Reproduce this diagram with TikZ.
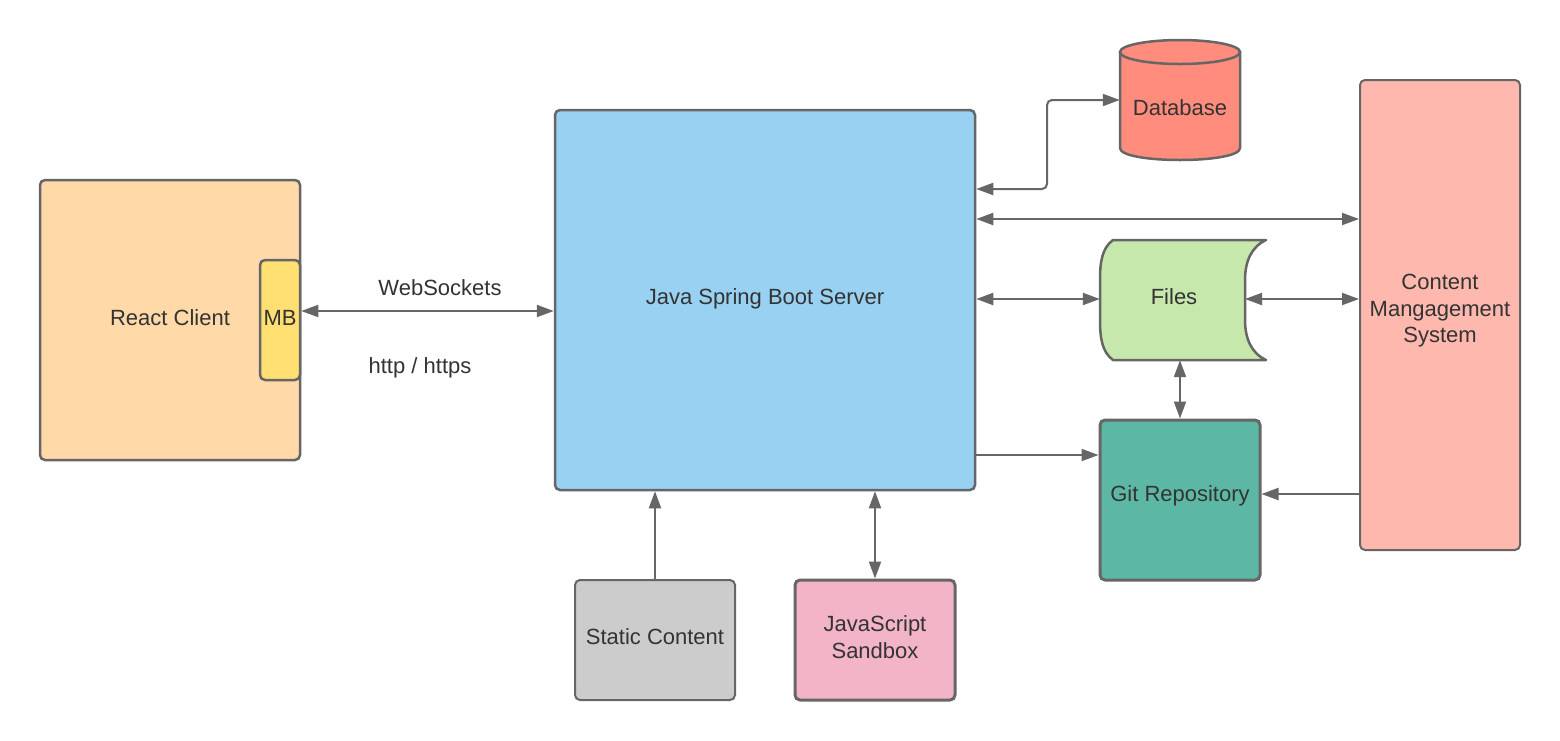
\documentclass[tikz,border=0pt]{standalone}
\usepackage{fontspec}
\setmainfont{Liberation Sans}
\usetikzlibrary{arrows.meta}
\definecolor{ln}{HTML}{666666}
\definecolor{txt}{HTML}{333333}
\definecolor{reactc}{HTML}{FFD9A8}
\definecolor{mbc}{HTML}{FFDF71}
\definecolor{javac}{HTML}{99D1F2}
\definecolor{dbc}{HTML}{FF8C7C}
\definecolor{filesc}{HTML}{C7E8AC}
\definecolor{gitc}{HTML}{5CB8A5}
\definecolor{cmsc}{HTML}{FFB8AE}
\definecolor{staticc}{HTML}{CCCCCC}
\definecolor{jsc}{HTML}{F3B4C8}
\begin{document}
\begin{tikzpicture}[x=1pt,y=-1pt,
  box/.style={draw=ln, line width=2.5pt, rounded corners=5pt, text=txt, align=center, inner sep=0pt,
    font=\fontsize{22}{26.5}\selectfont},
  plain/.style={inner sep=0pt, text=txt, align=center, font=\fontsize{22}{26.5}\selectfont},
  lbl/.style={inner sep=0pt, text=txt, font=\fontsize{22}{26.5}\selectfont},
  conn/.style={draw=ln, line width=2pt, -{Triangle[length=17pt,width=12pt]}},
  dbl/.style={draw=ln, line width=2pt, {Triangle[length=17pt,width=12pt]}-{Triangle[length=17pt,width=12pt]}}
]
\useasboundingbox (0,0) rectangle (1560,740);
\fill[white] (0,0) rectangle (1560,740);

% React client and MB
\node[box, fill=reactc, minimum width=260pt, minimum height=280pt] (react) at (170,320) {};
\node[plain] (reacttxt) at (170,318) {React Client};
\node[box, fill=mbc, minimum width=40pt, minimum height=120pt] (mb) at (280,320) {};
\node[plain] (mbtxt) at (280,318) {MB};

% Java server
\node[box, fill=javac, minimum width=420pt, minimum height=380pt] (java) at (765,300) {};
\node[plain] (javatxt) at (765,299) {Java Spring Boot Server};

% Database cylinder
\node[minimum width=120pt, minimum height=120pt, inner sep=0pt] (db) at (1180,100) {};
\path[fill=dbc, draw=ln, line width=2.5pt, line join=round]
  (1120,52) -- (1120,148) .. controls (1120,164) and (1240,164) .. (1240,148) -- (1240,52) -- cycle;
\path[fill=dbc, draw=ln, line width=2.5pt] (1180,52) ellipse [x radius=60, y radius=12];
\node[plain] (dbtxt) at (1180,108) {Database};

% Files
\node[minimum width=160pt, minimum height=120pt, inner sep=0pt] (files) at (1180,300) {};
\path[fill=filesc, draw=ln, line width=2.5pt, line join=round]
  (1113,240) -- (1266,240)
  .. controls (1251,247) and (1245,262) .. (1245,280) -- (1245,320)
  .. controls (1245,338) and (1251,353) .. (1266,360)
  -- (1113,360)
  .. controls (1102,352) and (1100,338) .. (1100,320) -- (1100,280)
  .. controls (1100,262) and (1102,248) .. (1113,240) -- cycle;
\coordinate (filesR) at (1245,299);
\node[plain] (filestxt) at (1174,297) {Files};

% Git
\node[box, fill=gitc, line width=3pt, minimum width=160pt, minimum height=160pt] (git) at (1180,500) {};
\node[plain] (gittxt) at (1180,496) {Git Repository};

% CMS
\node[box, fill=cmsc, line width=2pt, minimum width=160pt, minimum height=470pt] (cms) at (1440,315) {};
\node[plain] (cmstxt) at (1440,311) {Content\\Mangagement\\System};

% Static content and JS sandbox
\node[box, fill=staticc, line width=2pt, minimum width=160pt, minimum height=120pt] (static) at (655,640) {};
\node[plain] (statictxt) at (655,637) {Static Content};
\node[box, fill=jsc, line width=3pt, minimum width=160pt, minimum height=120pt] (js) at (875,640) {};
\node[plain] (jstxt) at (875,637) {JavaScript\\Sandbox};

% labels
\node[lbl] (ws) at (440,288) {WebSockets};
\node[lbl] (http) at (420,368) {http / https};

% helper coordinates
\coordinate (y311) at (0,311);
\coordinate (y189) at (0,189);
\coordinate (y100) at (0,100);
\coordinate (y219) at (0,219);
\coordinate (y455) at (0,455);
\coordinate (y494) at (0,494);
\coordinate (x1047) at (1047,0);

% connectors
\draw[dbl] (mb.east |- y311) -- (java.west |- y311);
\draw[dbl, rounded corners=5pt] (java.east |- y189) -- (x1047 |- y189) -- (x1047 |- y100) -- (db.west |- y100);
\draw[dbl] (java.east |- y219) -- (cms.west |- y219);
\draw[dbl] (java.east |- filesR) -- (files.west |- filesR);
\draw[dbl] (filesR) -- (cms.west |- filesR);
\draw[dbl] (files.south) -- (git.north);
\draw[conn] (java.east |- y455) -- (git.west |- y455);
\draw[conn] (cms.west |- y494) -- (git.east |- y494);
\draw[conn] (static.north) -- (java.south -| static.north);
\draw[dbl] (js.north) -- (java.south -| js.north);
\end{tikzpicture}
\end{document}
